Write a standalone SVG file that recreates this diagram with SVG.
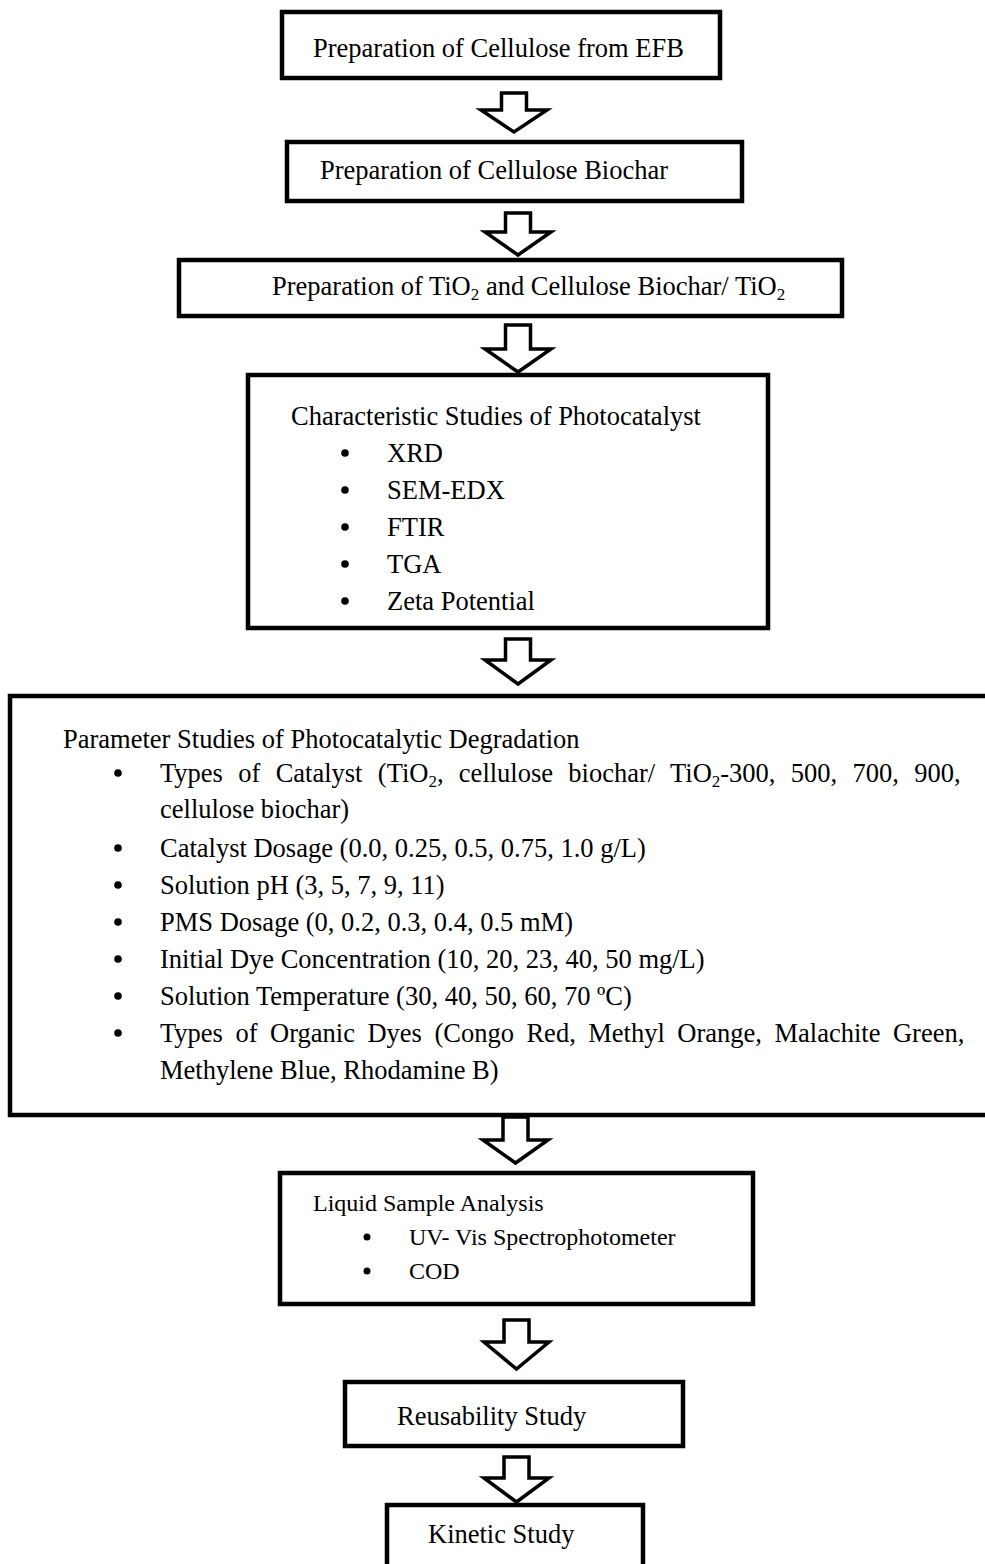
<svg xmlns="http://www.w3.org/2000/svg" width="985" height="1564" viewBox="0 0 985 1564">
<style>
  .box { fill: #ffffff; stroke: #000000; stroke-width: 4.5; }
  .arr { fill: #ffffff; stroke: #000000; stroke-width: 3.5; stroke-linejoin: miter; }
  .dot { fill: #000000; }
  text { font-family: "Liberation Serif", "Times New Roman", serif; font-size: 26.5px; fill: #000000; }
  .sm { font-size: 24px; }
  .sub { font-size: 17px; }
</style>
<defs>
  <circle id="b" r="3.8"/>
  <circle id="bs" r="3.5"/>
</defs>
<rect width="985" height="1564" fill="#ffffff"/>

<g id="connectors">
  <path class="arr" d="M501.5,93 H526.5 V110 H547 L514,132 L481,110 H501.5 Z"/>
  <path class="arr" d="M505.5,213 H530.5 V232 H551 L518,255 L485,232 H505.5 Z"/>
  <path class="arr" d="M505.5,325 H530.5 V349 H551 L518,372 L485,349 H505.5 Z"/>
  <path class="arr" d="M505.5,639 H530.5 V660 H551 L518,684 L485,660 H505.5 Z"/>
  <path class="arr" d="M503,1117 H528 V1140 H548 L515.5,1163 L483,1140 H503 Z"/>
  <path class="arr" d="M504,1320 H529 V1342 H549 L516.5,1369 L484,1342 H504 Z"/>
  <path class="arr" d="M504,1457 H529 V1478 H549 L516.5,1502 L484,1478 H504 Z"/>
</g>

<g id="node-cellulose">
  <rect class="box" x="282" y="12" width="438" height="66"/>
  <text x="313" y="57">Preparation of Cellulose from EFB</text>
</g>

<g id="node-biochar">
  <rect class="box" x="287" y="142" width="455" height="59"/>
  <text x="320" y="179">Preparation of Cellulose Biochar</text>
</g>

<g id="node-tio2">
  <rect class="box" x="179" y="260" width="663" height="56"/>
  <text x="272" y="295">Preparation of TiO<tspan class="sub" dy="5">2</tspan><tspan dy="-5"> and Cellulose Biochar/ TiO</tspan><tspan class="sub" dy="5">2</tspan></text>
</g>

<g id="node-characteristic">
  <rect class="box" x="248" y="375" width="520" height="253"/>
  <text x="291" y="425">Characteristic Studies of Photocatalyst</text>
  <use class="dot" href="#b" x="345" y="453"/><text x="387" y="462">XRD</text>
  <use class="dot" href="#b" x="345" y="490"/><text x="387" y="499">SEM-EDX</text>
  <use class="dot" href="#b" x="345" y="527"/><text x="387" y="536">FTIR</text>
  <use class="dot" href="#b" x="345" y="564"/><text x="387" y="573">TGA</text>
  <use class="dot" href="#b" x="345" y="601"/><text x="387" y="610">Zeta Potential</text>
</g>

<g id="node-parameter">
  <rect class="box" x="10" y="696" width="990" height="419"/>
  <text x="63" y="748">Parameter Studies of Photocatalytic Degradation</text>
  <use class="dot" href="#b" x="118" y="773"/>
  <text x="160" y="782" word-spacing="8.7">Types of Catalyst (TiO<tspan class="sub" dy="5">2</tspan><tspan dy="-5">, cellulose biochar/ TiO</tspan><tspan class="sub" dy="5">2</tspan><tspan dy="-5">-300, 500, 700, 900,</tspan></text>
  <text x="160" y="818">cellulose biochar)</text>
  <use class="dot" href="#b" x="118" y="848"/><text x="160" y="857">Catalyst Dosage (0.0, 0.25, 0.5, 0.75, 1.0 g/L)</text>
  <use class="dot" href="#b" x="118" y="885"/><text x="160" y="894">Solution pH (3, 5, 7, 9, 11)</text>
  <use class="dot" href="#b" x="118" y="922"/><text x="160" y="931">PMS Dosage (0, 0.2, 0.3, 0.4, 0.5 mM)</text>
  <use class="dot" href="#b" x="118" y="959"/><text x="160" y="968">Initial Dye Concentration (10, 20, 23, 40, 50 mg/L)</text>
  <use class="dot" href="#b" x="118" y="996"/><text x="160" y="1005">Solution Temperature (30, 40, 50, 60, 70 ºC)</text>
  <use class="dot" href="#b" x="118" y="1033"/><text x="160" y="1042" word-spacing="5.9">Types of Organic Dyes (Congo Red, Methyl Orange, Malachite Green,</text>
  <text x="160" y="1079">Methylene Blue, Rhodamine B)</text>
</g>

<g id="node-liquid">
  <rect class="box" x="280" y="1173" width="473" height="131"/>
  <text class="sm" x="313" y="1211">Liquid Sample Analysis</text>
  <use class="dot" href="#bs" x="367" y="1237"/><text class="sm" x="409" y="1245">UV- Vis Spectrophotometer</text>
  <use class="dot" href="#bs" x="367" y="1271"/><text class="sm" x="409" y="1279">COD</text>
</g>

<g id="node-reusability">
  <rect class="box" x="345" y="1382" width="338" height="64"/>
  <text x="397" y="1425">Reusability Study</text>
</g>

<g id="node-kinetic">
  <rect class="box" x="387" y="1505" width="256" height="80"/>
  <text x="428" y="1543">Kinetic Study</text>
</g>
</svg>
